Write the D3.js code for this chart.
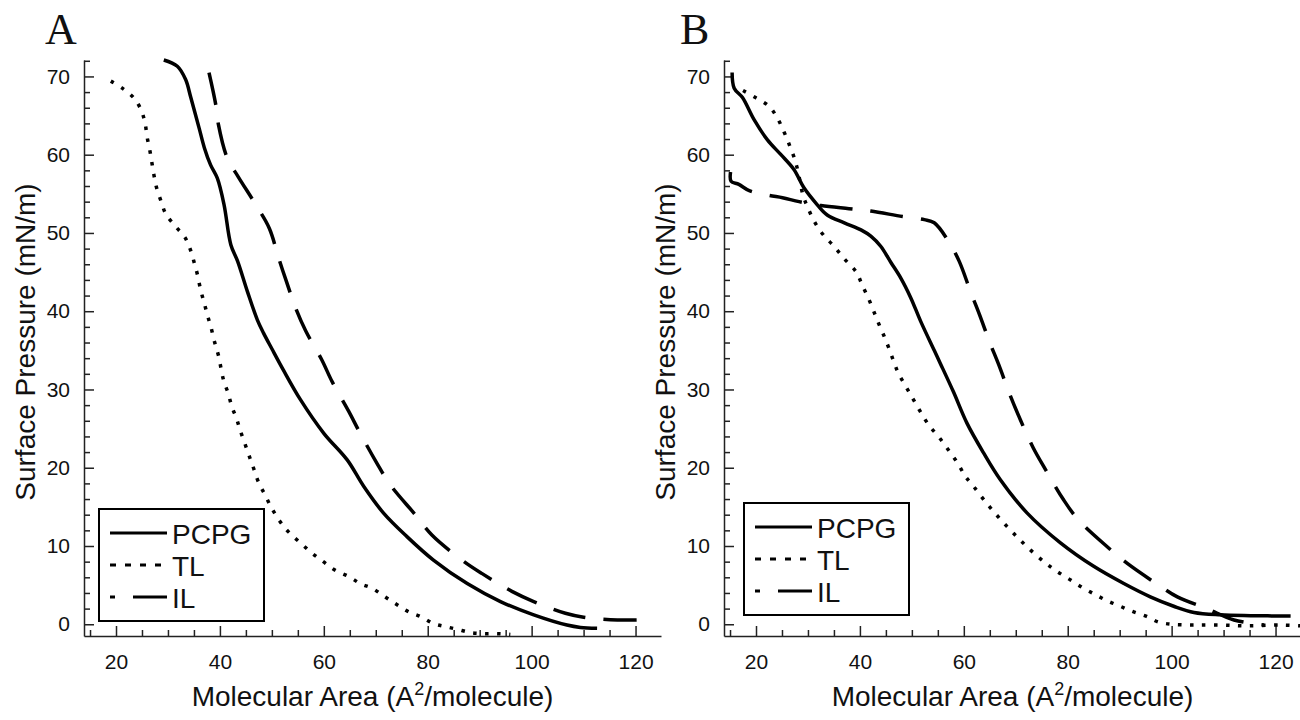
<!DOCTYPE html>
<html>
<head>
<meta charset="utf-8">
<script src="https://cdn.jsdelivr.net/npm/d3@7"></script>
<style>
  body { margin: 0; background: #fff; }
  svg text { font-family: "Liberation Sans", Arial, Helvetica, sans-serif; fill: #111; }
</style>
</head>
<body>
<div id="chart"></div>
<script>
var WD = 1300, HT = 720

// series: [molecular area, surface pressure]
var pcpgA = [[29.2,72.1],[31.8,71.3],[33.4,69.6],[34.4,67.3],[36.0,63.4],[37.0,60.9],[38.2,58.7],[39.5,57.0],[40.8,53.6],[42.1,48.5],[43.4,46.4],[45.3,42.5],[47.2,38.9],[48.4,37.2],[50.0,35.2],[52.2,32.5],[55.5,28.7],[60.0,24.4],[64.5,21.0],[67.7,17.6],[71.5,14.2],[76.0,11.2],[81.1,8.2],[87.6,5.2],[94.0,2.9],[100.4,1.2],[106.8,-0.1],[109.4,-0.4],[112.6,-0.5]];
var tlA = [[19.0,69.4],[21.2,68.5],[23.5,67.2],[24.9,65.6],[25.6,64.0],[26.0,62.2],[26.5,60.6],[26.9,59.0],[27.3,57.4],[27.8,55.8],[28.7,54.0],[29.6,52.4],[31.5,50.8],[33.3,49.4],[34.4,47.7],[35.1,46.1],[35.7,44.6],[36.3,42.7],[37.0,41.0],[37.6,39.5],[38.3,37.9],[39.0,36.0],[39.7,34.4],[40.7,31.2],[41.6,29.5],[42.3,27.8],[43.2,26.3],[43.9,24.8],[44.9,22.9],[45.8,21.2],[46.5,19.9],[47.4,18.2],[48.7,16.5],[50.0,14.8],[51.6,13.1],[53.2,11.8],[55.5,10.4],[57.7,9.1],[59.9,8.0],[62.2,6.9],[64.8,6.1],[67.0,5.2],[69.3,4.6],[71.8,3.5],[74.1,2.5],[76.3,1.6],[78.6,1.0],[81.1,0.1],[83.4,-0.3],[86.0,-0.7],[88.5,-1.1],[90.8,-1.2],[93.4,-1.2],[95.9,-1.3]];
var ilA = [[37.9,70.5],[39.2,66.4],[39.7,63.9],[41.4,59.6],[43.5,57.2],[47.1,53.4],[49.5,50.6],[51.4,46.6],[52.7,44.0],[54.7,40.2],[56.5,37.5],[59.6,33.8],[61.6,31.0],[64.8,27.2],[67.0,24.4],[70.2,20.6],[72.8,17.8],[77.6,14.0],[80.8,11.4],[86.6,8.2],[90.4,6.5],[96.2,4.2],[100.4,2.9],[106.5,1.4],[110.0,0.9],[116.5,0.55],[121.0,0.55]];

var pcpgB = [[15.4,70.5],[15.8,68.5],[17.4,67.3],[19.6,64.5],[22.2,61.9],[24.8,60.0],[27.3,58.1],[29.2,55.8],[31.8,53.6],[33.7,52.3],[37.0,51.3],[40.2,50.4],[42.1,49.6],[44.0,48.3],[46.0,46.2],[47.9,44.2],[49.8,41.7],[51.7,38.7],[54.3,35.0],[55.5,33.3],[58.0,29.7],[60.6,25.7],[63.8,21.9],[67.0,18.5],[72.2,14.2],[78.6,10.4],[85.0,7.4],[90.8,5.2],[95.9,3.5],[100.4,2.3],[104.3,1.5],[109.4,1.2],[115.2,1.1],[122.9,1.05]];
var tlB = [[17.5,68.2],[19.9,67.3],[22.5,66.2],[24.1,64.7],[25.4,62.9],[26.4,61.3],[27.3,59.7],[28.0,58.1],[29.1,54.7],[30.0,53.2],[31.2,51.5],[32.9,49.8],[35.0,48.3],[37.0,46.7],[39.3,45.0],[40.4,43.4],[41.6,41.7],[42.6,40.1],[43.5,38.6],[44.6,36.9],[45.5,35.4],[46.5,33.6],[47.4,32.1],[49.0,30.2],[50.3,28.7],[51.7,27.1],[53.2,25.5],[55.1,24.0],[57.0,22.3],[58.8,20.6],[60.3,18.9],[61.9,17.6],[64.1,15.7],[66.0,14.2],[68.3,12.5],[70.5,11.0],[72.8,9.5],[75.4,8.0],[77.6,6.9],[80.2,5.8],[82.8,4.7],[85.3,3.8],[87.6,3.0],[90.1,2.3],[92.6,1.6],[95.2,1.0],[97.4,0.3],[100.0,0.0],[104.2,-0.1],[109.4,-0.1],[114.5,-0.2],[121.0,-0.1],[124.8,-0.2]];
var ilB = [[15.1,57.8],[15.2,56.6],[16.7,56.2],[18.7,55.4],[22.5,54.8],[25.1,54.5],[28.3,54.0],[32.5,53.5],[37.9,53.1],[42.1,52.8],[48.2,52.1],[52.4,51.7],[54.3,51.3],[56.9,49.1],[59.1,46.4],[61.4,42.3],[63.0,39.6],[65.0,36.0],[66.7,33.2],[68.9,29.3],[70.9,26.1],[73.4,22.5],[75.7,19.8],[79.2,15.9],[82.1,13.3],[87.6,9.9],[91.4,7.8],[97.5,5.0],[101.1,3.5],[106.8,2.0],[112.0,0.55],[117.8,-0.1]];

var seriesNames = ["PCPG", "TL", "IL"]
var panelLabels = ["A", "B"]
var xMajor = [20, 40, 60, 80, 100, 120]
var yMajor = [0, 10, 20, 30, 40, 50, 60, 70]

var styles = {
  PCPG: { dash: null, legendDash: null },
  TL:   { dash: "3.5,8.5", legendDash: "6,9" },
  IL:   { dash: "33,18", legendDash: "5,18,40" }
}

var svg = d3.select("#chart").append("svg")
  .attr("width", WD)
  .attr("height", HT)

var panels = [
  { label: panelLabels[0], left: 84, right: 661, data: [pcpgA, tlA, ilA], labelX: 45, legend: { x: 99, y: 509 } },
  { label: panelLabels[1], left: 724, right: 1301, data: [pcpgB, tlB, ilB], labelX: 680, legend: { x: 744, y: 503 } }
]

var plotTop = 60, plotBottom = 636

panels.forEach(function(p) { drawPanel(p) })

function drawPanel(p) {
  var g = svg.append("g")

  var x = d3.scaleLinear().domain([13.84, 124.9]).range([p.left, p.right])
  var y = d3.scaleLinear().domain([-1.5, 72.1]).range([plotBottom, plotTop])

  var xMinor = d3.range(15, 125, 5).filter(function(v) { return v % 20 != 0 })
  var yMinor = d3.range(2, 73, 2).filter(function(v) { return v % 10 != 0 })

  // x axis
  g.append("g")
    .attr("transform", "translate(0," + plotBottom + ")")
    .call(d3.axisBottom(x).tickValues(xMajor).tickSizeInner(-10).tickSizeOuter(0).tickPadding(18))
    .call(styleAxis)
  g.append("g")
    .attr("transform", "translate(0," + plotBottom + ")")
    .call(d3.axisBottom(x).tickValues(xMinor).tickSizeInner(-6).tickSizeOuter(0).tickFormat(""))
    .call(styleAxis)
    .select(".domain").remove()

  // y axis
  g.append("g")
    .attr("transform", "translate(" + p.left + ",0)")
    .call(d3.axisLeft(y).tickValues(yMajor).tickSizeInner(-10).tickSizeOuter(0).tickPadding(14))
    .call(styleAxis)
  g.append("g")
    .attr("transform", "translate(" + p.left + ",0)")
    .call(d3.axisLeft(y).tickValues(yMinor).tickSizeInner(-6).tickSizeOuter(0).tickFormat(""))
    .call(styleAxis)
    .select(".domain").remove()

  // axis titles
  var xt = g.append("text")
    .attr("x", (p.left + p.right) / 2)
    .attr("y", 706)
    .attr("text-anchor", "middle")
    .style("font-size", "28px")
  xt.append("tspan").text("Molecular Area (A")
  xt.append("tspan").attr("dy", -11).style("font-size", "18px").text("2")
  xt.append("tspan").attr("dy", 11).text("/molecule)")

  g.append("text")
    .attr("transform", "translate(" + (p.left - 49) + "," + ((plotTop + plotBottom) / 2 - 6) + ") rotate(-90)")
    .attr("text-anchor", "middle")
    .style("font-size", "28px")
    .text("Surface Pressure (mN/m)")

  // panel letter
  g.append("text")
    .attr("x", p.labelX)
    .attr("y", 44)
    .style("font-family", "'Liberation Serif', 'Times New Roman', serif")
    .style("font-size", "44px")
    .text(p.label)

  // curves
  var line = d3.line()
    .x(function(d) { return x(d[0]) })
    .y(function(d) { return y(d[1]) })
    .curve(d3.curveCatmullRom.alpha(0.5))

  g.selectAll(".curve")
    .data(p.data)
    .enter().append("path")
      .attr("class", "curve")
      .attr("d", line)
      .attr("fill", "none")
      .attr("stroke", "#000")
      .attr("stroke-width", 3.5)
      .attr("stroke-linejoin", "round")
      .attr("stroke-dasharray", function(d, i) { return styles[seriesNames[i]].dash })

  // legend
  var lg = g.append("g").attr("transform", "translate(" + p.legend.x + "," + p.legend.y + ")")
  lg.append("rect")
    .attr("width", 165)
    .attr("height", 112)
    .attr("fill", "#fff")
    .attr("stroke", "#000")
    .attr("stroke-width", 2)

  var rows = lg.selectAll(".row")
    .data(seriesNames)
    .enter().append("g")
      .attr("class", "row")
      .attr("transform", function(d, i) { return "translate(0," + (24 + i * 32) + ")" })
  rows.append("line")
    .attr("x1", 11).attr("x2", 68)
    .attr("stroke", "#000")
    .attr("stroke-width", 3)
    .attr("stroke-dasharray", function(d) { return styles[d].legendDash })
  rows.append("text")
    .attr("x", 73)
    .attr("y", 10.5)
    .style("font-size", "28px")
    .text(function(d) { return d })
}

function styleAxis(sel) {
  sel.selectAll(".domain").attr("stroke", "#222").attr("stroke-width", 1.5)
  sel.selectAll(".tick line").attr("stroke", "#222").attr("stroke-width", 1.5)
  sel.selectAll(".tick text").style("font-size", "21px").attr("fill", "#111")
    .style("font-family", "'Liberation Sans', Arial, sans-serif")
}
</script>
</body>
</html>
